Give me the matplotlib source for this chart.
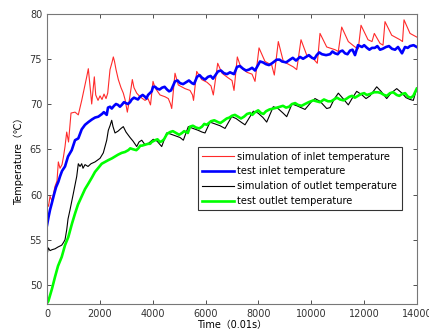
import matplotlib
matplotlib.use("Agg")
import matplotlib.pyplot as plt

plt.rcParams["font.family"] = ["DejaVu Sans", "Noto Sans CJK SC"]

# simulation of inlet temperature
sim_in_t = [0, 57, 114, 189, 303, 378, 428, 492, 568, 624, 681, 745, 814, 908,
            1060, 1184, 1313, 1502, 1563, 1627, 1691, 1790, 1843, 1930, 2006,
            2081, 2157, 2233, 2297, 2384, 2460, 2509, 2554, 2611, 2698, 2800,
            2887, 2952, 3039, 3103, 3228, 3292, 3394, 3519, 3708, 3822, 3916,
            4011, 4087, 4276, 4465, 4590, 4673, 4719, 4843, 4968, 5222, 5411,
            5506, 5544, 5665, 5854, 6054, 6205, 6293, 6459, 6622, 6849, 7000,
            7076, 7201, 7341, 7568, 7757, 7871, 8022, 8249, 8503, 8601, 8752,
            8942, 9320, 9449, 9611, 9827, 10077, 10228, 10330, 10584, 10898,
            11023, 11151, 11401, 11654, 11779, 11882, 12147, 12298, 12385,
            12601, 12714, 12790, 13043, 13358, 13452, 13509, 13736, 13990]
sim_in = [59.0, 58.7, 59.8, 59.3, 60.9, 61.5, 63.6, 62.9, 63.3, 64.2, 65.3,
          66.9, 65.8, 69.0, 69.1, 68.8, 70.4, 73.0, 73.9, 72.0, 70.0, 73.0,
          71.0, 70.4, 70.9, 70.5, 71.1, 70.6, 71.2, 73.8, 74.6, 75.2, 74.7,
          73.8, 72.7, 71.8, 71.2, 70.5, 69.1, 70.2, 72.7, 71.8, 71.2, 70.8,
          70.4, 70.6, 69.9, 72.5, 71.8, 71.0, 70.8, 70.6, 70.0, 69.5, 73.4,
          72.1, 71.7, 71.5, 71.0, 70.4, 73.6, 72.7, 72.4, 72.0, 71.0, 74.5,
          73.4, 72.9, 72.6, 71.5, 75.2, 74.0, 73.5, 73.3, 72.5, 76.2, 74.7,
          74.3, 73.2, 76.9, 74.7, 74.1, 73.8, 77.1, 75.4, 75.0, 74.5, 77.8,
          76.3, 76.0, 75.8, 78.5, 76.9, 76.3, 76.1, 78.7, 77.1, 76.9, 77.8,
          76.7, 76.5, 79.1, 77.6, 77.1, 76.9, 79.3, 77.8, 77.4]

# test inlet temperature (main trace + readings of the noise band)
test_in_t = [0, 57, 114, 178, 265, 341, 428, 492, 568, 681, 795, 935, 1060,
             1184, 1313, 1438, 1563, 1703, 1816, 1941, 2081, 2259, 2308, 2384,
             2535, 2687, 2827, 2989, 3141, 3205, 3368, 3519, 3708, 3822, 3962,
             4011, 4163, 4352, 4541, 4692, 4843, 5033, 5260, 5487, 5563, 5676,
             5865, 6092, 6281, 6470, 6697, 6924, 7076, 7189, 7417, 7643, 7871,
             8060, 8287, 8514, 8692, 8892, 9195, 9422, 9574, 9801, 10028,
             10205, 10406, 10709, 10898, 11087, 11276, 11466, 11654, 11768,
             11919, 12109, 12298, 12404, 12601, 12828, 13055, 13282, 13433,
             13547, 13736, 13990]
test_in = [56.6, 57.5, 58.3, 59.0, 60.0, 60.8, 61.4, 62.0, 62.6, 63.1, 64.2,
           64.9, 66.0, 66.2, 67.2, 67.7, 68.0, 68.3, 68.5, 68.6, 68.9, 68.8,
           69.6, 69.7, 69.8, 69.9, 69.9, 70.1, 70.2, 70.5, 70.6, 70.8, 70.8,
           71.0, 71.4, 71.9, 71.7, 71.8, 71.6, 71.5, 72.5, 72.3, 72.4, 72.3,
           72.2, 73.0, 72.9, 73.0, 72.8, 73.6, 73.4, 73.5, 73.3, 74.1, 73.9,
           73.8, 73.7, 74.7, 74.4, 74.5, 74.9, 74.7, 74.9, 74.8, 75.2, 75.2,
           75.1, 75.4, 75.5, 75.5, 75.6, 75.8, 75.6, 75.9, 75.4, 76.5, 76.3,
           76.2, 76.2, 76.2, 76.0, 76.3, 76.1, 76.3, 75.6, 76.3, 76.4, 76.3]
test_in_noise_t = [2150, 2450, 2610, 2760, 2910, 3060, 3290, 3440, 3620, 3760,
                   4090, 4260, 4450, 4620, 4940, 5150, 5370, 5770, 5980, 6190,
                   6580, 6810, 7300, 7530, 7760, 8170, 8400, 8800, 9050, 9300,
                   9690, 9910, 10120, 10300, 10560, 10800, 11000, 11180, 11370,
                   11560, 12000, 12200, 12500, 12700, 12940, 13170, 13650,
                   13870]
test_in_noise = [69.1, 69.5, 70.0, 69.7, 70.2, 70.0, 70.7, 70.5, 71.0, 70.6,
                 71.9, 71.6, 71.9, 71.4, 72.6, 72.2, 72.6, 73.2, 72.7, 73.1,
                 73.7, 73.3, 74.2, 73.7, 74.0, 74.6, 74.3, 74.9, 74.6, 75.1,
                 75.0, 75.4, 75.0, 75.7, 75.4, 75.8, 75.5, 75.9, 75.5, 76.0,
                 76.5, 76.0, 76.4, 76.1, 76.4, 76.0, 76.2, 76.5]

# simulation of outlet temperature
sim_out_t = [0, 49, 114, 189, 303, 416, 556, 624, 681, 745, 795, 870, 995,
             1124, 1184, 1249, 1313, 1362, 1438, 1551, 1665, 1816, 2006, 2130,
             2195, 2259, 2320, 2384, 2448, 2497, 2573, 2687, 2800, 2887, 2989,
             3141, 3255, 3394, 3481, 3584, 3708, 3822, 3897, 4022, 4163, 4340,
             4529, 4654, 4844, 5033, 5158, 5347, 5525, 5714, 5865, 5979, 6168,
             6357, 6546, 6736, 6989, 7152, 7341, 7492, 7806, 7984, 8173, 8313,
             8563, 8741, 8930, 9070, 9271, 9460, 9611, 9763, 9990, 10141,
             10330, 10584, 10709, 10860, 11023, 11201, 11401, 11541, 11719,
             11920, 12071, 12222, 12476, 12639, 12854, 13017, 13233, 13433,
             13585, 13736, 13861, 13990]
sim_out = [53.3, 54.1, 53.8, 53.9, 54.0, 54.2, 54.4, 54.7, 55.0, 56.1, 57.3,
           58.3, 60.1, 62.0, 63.4, 63.1, 63.4, 62.9, 63.3, 63.1, 63.4, 63.6,
           64.0, 64.6, 65.3, 66.0, 67.1, 67.6, 68.2, 67.5, 66.8, 67.0, 67.3,
           67.5, 66.9, 66.3, 65.9, 65.3, 65.8, 66.0, 65.5, 65.6, 65.8, 66.1,
           65.9, 65.3, 66.8, 66.7, 66.5, 66.3, 66.0, 67.5, 67.3, 67.1, 66.9,
           66.8, 68.0, 67.8, 67.6, 67.3, 68.6, 68.4, 68.0, 67.7, 69.2, 69.0,
           68.5, 68.0, 69.7, 69.5, 69.0, 68.6, 70.0, 69.8, 69.6, 69.4, 70.2,
           70.6, 70.3, 69.5, 69.6, 70.5, 71.2, 70.6, 69.9, 70.6, 71.4, 71.0,
           70.6, 70.9, 71.9, 71.4, 70.6, 71.2, 71.7, 71.2, 70.7, 70.5, 70.4,
           71.7]

# test outlet temperature (main trace + readings of the noise band)
test_out_t = [0, 49, 189, 303, 416, 556, 681, 806, 946, 1060, 1173, 1313,
              1438, 1563, 1703, 1816, 1930, 2070, 2195, 2320, 2460, 2573, 2687,
              2827, 2952, 3076, 3254, 3455, 3595, 3708, 3822, 3962, 4087, 4276,
              4427, 4541, 4654, 4881, 5109, 5260, 5411, 5638, 5865, 6043, 6205,
              6470, 6660, 6800, 7000, 7227, 7454, 7682, 7871, 8098, 8287, 8563,
              8817, 9044, 9271, 9498, 9763, 10077, 10330, 10633, 10860, 11087,
              11341, 11541, 11768, 12000, 12222, 12525, 12752, 12979, 13233,
              13433, 13660, 13861, 13990]
test_out = [48.0, 48.2, 49.6, 50.9, 52.1, 53.1, 54.4, 55.3, 56.8, 57.9, 58.9,
            59.8, 60.6, 61.2, 61.9, 62.5, 62.9, 63.4, 63.6, 63.8, 64.0, 64.2,
            64.4, 64.6, 64.7, 64.9, 65.0, 65.1, 65.4, 65.5, 65.6, 65.8, 66.0,
            65.8, 66.1, 66.7, 66.9, 66.8, 66.8, 66.9, 67.5, 67.4, 67.5, 67.7,
            68.1, 68.0, 68.1, 68.4, 68.7, 68.6, 68.6, 69.0, 69.1, 69.0, 69.2,
            69.5, 69.7, 69.6, 70.0, 69.9, 70.0, 70.4, 70.2, 70.3, 70.5, 70.5,
            70.6, 70.9, 70.9, 71.2, 71.1, 71.3, 71.0, 71.2, 71.0, 71.1, 70.8,
            70.9, 71.7]
test_out_noise_t = [3150, 3380, 3530, 3900, 4180, 4350, 4760, 5000, 5190, 5330,
                    5520, 5760, 5950, 6330, 6560, 6900, 7110, 7340, 7570, 7770,
                    7990, 8190, 8420, 8700, 8930, 9160, 9390, 9630, 9900,
                    10200, 10480, 10750, 10970, 11220, 11440, 11650, 11880,
                    12100, 12380, 12640, 12860, 13100, 13330, 13550, 13770]
test_out_noise = [65.1, 64.9, 65.4, 65.6, 66.1, 65.9, 67.0, 66.6, 67.0, 66.8,
                  67.6, 67.3, 67.8, 68.2, 67.9, 68.5, 68.8, 68.4, 68.9, 68.8,
                  69.3, 68.9, 69.4, 69.6, 69.8, 69.7, 70.1, 69.8, 70.2, 70.3,
                  70.5, 70.3, 70.7, 70.4, 70.8, 70.7, 71.1, 71.0, 71.3, 71.2,
                  70.9, 71.3, 70.9, 71.2, 70.7]


def merged(t_main, v_main, t_extra, v_extra):
    pairs = sorted(zip(t_main + t_extra, v_main + v_extra))
    return [p[0] for p in pairs], [p[1] for p in pairs]


tin_t, tin_v = merged(test_in_t, test_in, test_in_noise_t, test_in_noise)
tout_t, tout_v = merged(test_out_t, test_out, test_out_noise_t, test_out_noise)

fig = plt.figure(figsize=(4.29, 3.35), dpi=100)
ax = fig.add_axes([0.1096, 0.0925, 0.8624, 0.8672])

ax.plot(sim_in_t, sim_in, color="#ff2a2a", linewidth=0.8,
        label="simulation of inlet temperature")
ax.plot(tin_t, tin_v, color="#0000ff", linewidth=1.9,
        label="test inlet temperature")
ax.plot(sim_out_t, sim_out, color="black", linewidth=0.8,
        label="simulation of outlet temperature")
ax.plot(tout_t, tout_v, color="#00ff00", linewidth=1.9,
        label="test outlet temperature")

ax.set_xlim(0, 14000)
ax.set_ylim(47.9, 80)
ax.set_xticks(range(0, 14001, 2000))
ax.set_yticks(range(50, 81, 5))
ax.tick_params(direction="in", top=True, right=True, labelsize=7,
               colors="#333333", length=3, width=0.6)
for s in ax.spines.values():
    s.set_color("#777777")
    s.set_linewidth(0.8)

ax.set_xlabel("Time（0.01s）", fontsize=7, labelpad=1)
ax.set_ylabel("Temperature（℃）", fontsize=7, labelpad=4)

leg = ax.legend(loc="upper left", bbox_to_anchor=(0.408, 0.540), fontsize=7,
                frameon=True, fancybox=False, edgecolor="black",
                handlelength=3.3, borderpad=0.45, labelspacing=0.5,
                handletextpad=0.3, borderaxespad=0)
leg.get_frame().set_linewidth(0.8)

fig.savefig("out.png", dpi=100)
